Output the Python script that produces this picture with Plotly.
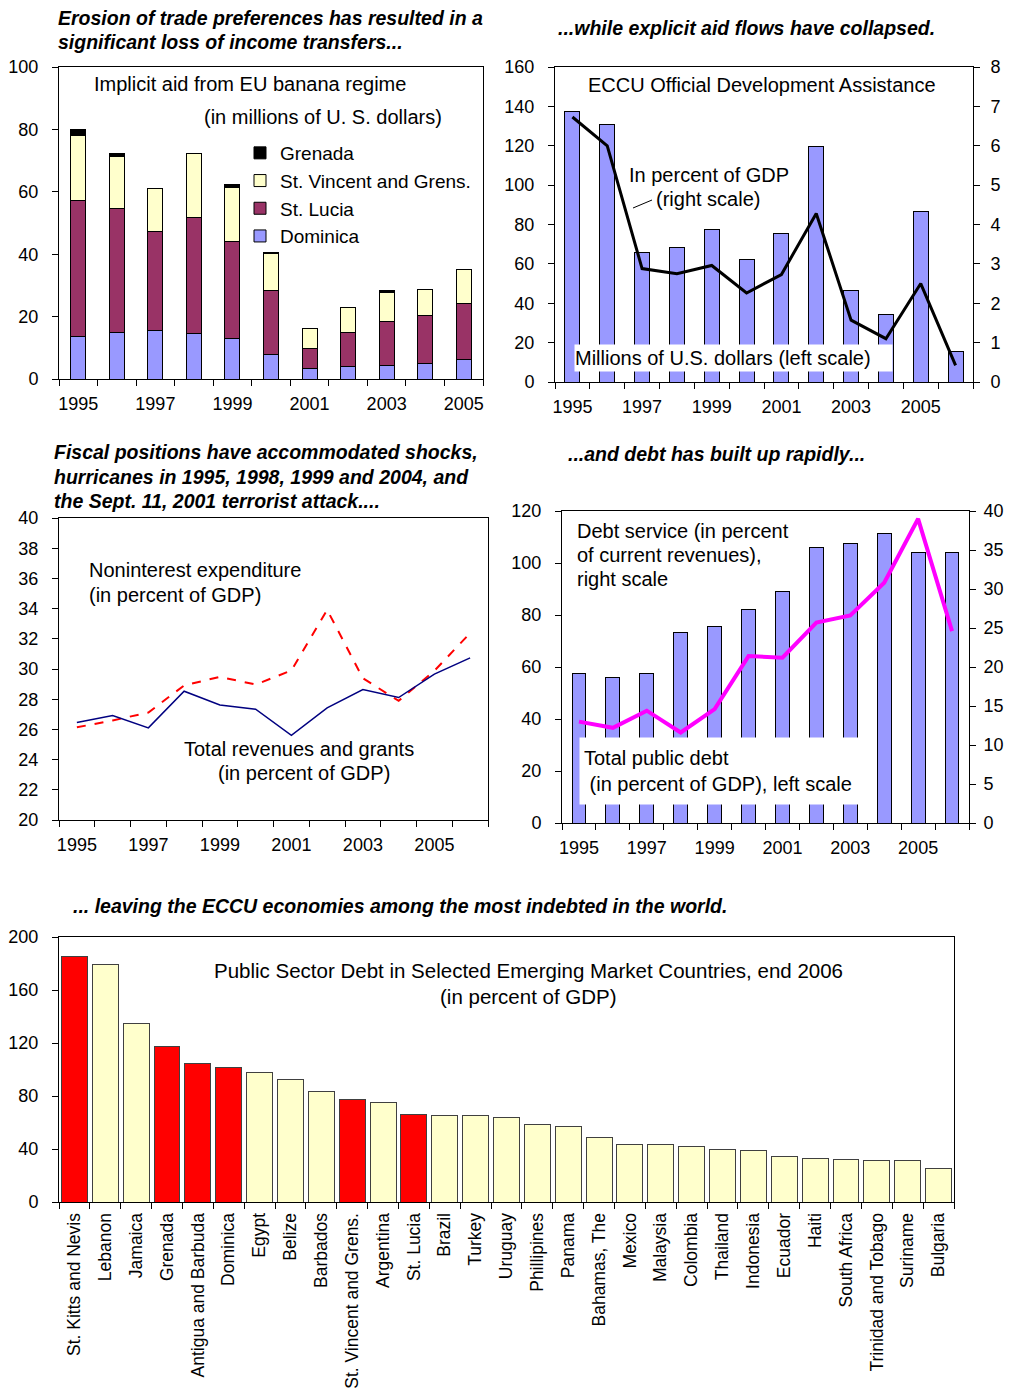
import plotly.graph_objects as go

# reference canvas (pixels) and the figure actually drawn inside the page body (8px body margin)
REF_W, REF_H = 1013, 1399
OFF_X, OFF_Y = 8, 8
W, H = REF_W - 2 * OFF_X, REF_H - 2 * OFF_Y

# ---------------- data ----------------
years11 = ["1995", "1996", "1997", "1998", "1999", "2000", "2001", "2002", "2003", "2004", "2005"]
years12 = years11 + ["2006"]
year_labels11 = ["1995", "", "1997", "", "1999", "", "2001", "", "2003", "", "2005"]
year_labels12 = year_labels11 + [""]

# Implicit aid from EU banana regime (millions of US$)
dominica = [13.6, 15.0, 15.5, 14.5, 13.1, 7.8, 3.4, 3.9, 4.4, 4.9, 6.3]
st_lucia = [43.5, 39.8, 31.9, 37.4, 30.9, 20.5, 6.3, 11.1, 14.0, 15.5, 18.0]
st_vincent = [20.8, 16.4, 13.8, 20.4, 17.4, 12.0, 6.5, 7.8, 9.4, 8.3, 10.7]
grenada = [2.2, 1.1, None, None, 0.8, 0.4, None, None, 0.6, None, None]

# ECCU Official Development Assistance
oda_musd = [137.5, 130.7, 66.0, 68.2, 77.5, 62.1, 75.2, 119.7, 46.7, 34.4, 86.7, 15.7]
oda_pct_gdp = [6.73, 6.0, 2.88, 2.75, 2.96, 2.26, 2.73, 4.28, 1.57, 1.10, 2.50, 0.42]

# Fiscal positions (percent of GDP)
revenues_grants = [26.45, 26.92, 26.1, 28.53, 27.62, 27.34, 25.61, 27.43, 28.64, 28.11, 29.66, 30.74]
nonint_expend = [26.14, 26.59, 27.12, 28.91, 29.48, 28.97, 29.9, 33.92, 29.39, 27.89, 29.88, 32.38]

# Debt
public_debt = [57.6, 55.8, 57.6, 73.3, 75.6, 82.0, 89.0, 105.8, 107.6, 111.2, 104.0, 104.0]
debt_service = [13.0, 12.2, 14.4, 11.6, 14.6, 21.4, 21.2, 25.7, 26.6, 30.8, 39.0, 24.6]

# Public sector debt, end 2006
countries = ["St. Kitts and Nevis", "Lebanon", "Jamaica", "Grenada", "Antigua and Barbuda",
             "Dominica", "Egypt", "Belize", "Barbados", "St. Vincent and Grens.", "Argentina",
             "St. Lucia", "Brazil", "Turkey", "Uruguay", "Phillipines", "Panama", "Bahamas, The",
             "Mexico", "Malaysia", "Colombia", "Thailand", "Indonesia", "Ecuador", "Haiti",
             "South Africa", "Trinidad and Tobago", "Suriname", "Bulgaria"]
country_debt = [185.0, 179.2, 134.5, 117.4, 104.9, 101.6, 98.1, 92.3, 83.3, 77.5, 75.3,
                66.2, 65.0, 65.0, 63.7, 58.2, 57.0, 48.9, 43.4, 43.4, 42.2, 39.9, 38.9,
                34.4, 33.1, 32.1, 31.1, 31.1, 25.1]
eccu_members = ["St. Kitts and Nevis", "Grenada", "Antigua and Barbuda", "Dominica",
                "St. Vincent and Grens.", "St. Lucia"]

# ---------------- styles ----------------
FONT = "Arial, 'Liberation Sans', sans-serif"
BLUE = "#9999FF"
PLUM = "#993366"
CREAM = "#FFFFCC"


def px(x):
    return (x - OFF_X) / W


def py(y):
    return 1 - (y - OFF_Y) / H


fig = go.Figure()

# Top-left: stacked bars
for name, vals, col in [("Dominica", dominica, BLUE), ("St. Lucia", st_lucia, PLUM),
                        ("St. Vincent and Grens.", st_vincent, CREAM), ("Grenada", grenada, "#000000")]:
    fig.add_trace(go.Bar(x=years11, y=vals, name=name, marker=dict(color=col, line=dict(color="black", width=1)),
                         width=0.39, xaxis="x", yaxis="y", showlegend=True))

# Top-right: ODA
fig.add_trace(go.Bar(x=years12, y=oda_musd, marker=dict(color=BLUE, line=dict(color="black", width=1)),
                     width=0.43, xaxis="x2", yaxis="y2", showlegend=False))
fig.add_trace(go.Scatter(x=years12, y=oda_pct_gdp, mode="lines", line=dict(color="black", width=3),
                         xaxis="x2", yaxis="y3", showlegend=False))

# Mid-left: fiscal
fig.add_trace(go.Scatter(x=years12, y=nonint_expend, mode="lines", line=dict(color="#FF0000", width=2, dash="dash"),
                         xaxis="x3", yaxis="y4", showlegend=False))
fig.add_trace(go.Scatter(x=years12, y=revenues_grants, mode="lines", line=dict(color="#000080", width=1.5),
                         xaxis="x3", yaxis="y4", showlegend=False))

# Mid-right: debt
fig.add_trace(go.Bar(x=years12, y=public_debt, marker=dict(color=BLUE, line=dict(color="black", width=1)),
                     width=0.41, xaxis="x4", yaxis="y5", showlegend=False))
fig.add_trace(go.Scatter(x=years12, y=debt_service, mode="lines", line=dict(color="#FF00FF", width=4),
                         xaxis="x4", yaxis="y6", showlegend=False))

# Bottom: countries
bar_colors = ["#FF0000" if c in eccu_members else CREAM for c in countries]
fig.add_trace(go.Bar(x=countries, y=country_debt, marker=dict(color=bar_colors, line=dict(color="#404040", width=1)),
                     width=0.84, xaxis="x5", yaxis="y7", showlegend=False))

tickfont = dict(family=FONT, size=18, color="black")


def xcat(domain, anchor, cats, labels=None, angle=0):
    d = dict(domain=domain, anchor=anchor, type="category", categoryorder="array", categoryarray=cats,
             range=[-0.5, len(cats) - 0.5], showline=True, linecolor="black", linewidth=1, mirror=True,
             ticks="outside", ticklen=6, tickcolor="black", tickson="boundaries", showgrid=False,
             zeroline=False, tickfont=tickfont, ticklabelstandoff=8, fixedrange=True, tickangle=angle)
    if labels is not None:
        d.update(tickmode="array", tickvals=cats, ticktext=labels)
    return d


def ynum(domain, anchor, rng, dtick, side="left", overlaying=None, mirror=True):
    d = dict(domain=domain, anchor=anchor, range=rng, dtick=dtick, tick0=rng[0], side=side, showline=True,
             linecolor="black", linewidth=1, mirror=mirror, ticks="outside", ticklen=6, tickcolor="black",
             showgrid=False, zeroline=False, tickfont=tickfont, ticklabelstandoff=10, fixedrange=True)
    if overlaying:
        d["overlaying"] = overlaying
    return d


layout = dict(
    width=W, height=H, margin=dict(l=0, r=0, t=0, b=0, autoexpand=False),
    paper_bgcolor="white", plot_bgcolor="white",
    font=dict(family=FONT, color="black"),
    barmode="stack",
    showlegend=True,
    legend=dict(x=px(240), y=py(134), xanchor="left", yanchor="top", traceorder="reversed",
                font=dict(family=FONT, size=19, color="black"), bgcolor="rgba(0,0,0,0)",
                tracegroupgap=0, itemwidth=30),
    xaxis=xcat([px(59), px(483)], "y", years11, year_labels11),
    yaxis=ynum([py(379), py(67)], "x", [0, 100], 20),
    xaxis2=xcat([px(555), px(973)], "y2", years12, year_labels12),
    yaxis2=ynum([py(382), py(67)], "x2", [0, 160], 20),
    yaxis3=ynum([py(382), py(67)], "x2", [0, 8], 1, side="right", overlaying="y2", mirror=False),
    xaxis3=xcat([px(59), px(488)], "y4", years12, year_labels12),
    yaxis4=ynum([py(820), py(518)], "x3", [20, 40], 2),
    xaxis4=xcat([px(562), px(969)], "y5", years12, year_labels12),
    yaxis5=ynum([py(823), py(511)], "x4", [0, 120], 20),
    yaxis6=ynum([py(823), py(511)], "x4", [0, 40], 5, side="right", overlaying="y5", mirror=False),
    xaxis5=xcat([px(59), px(954)], "y7", countries, angle=-90),
    yaxis7=ynum([py(1202), py(937)], "x5", [0, 200], 40),
)
layout["xaxis5"]["ticklabelstandoff"] = 3
layout["xaxis5"]["tickfont"] = dict(family=FONT, size=17.5, color="black")
layout["yaxis3"]["ticklabelstandoff"] = 7
layout["yaxis6"]["ticklabelstandoff"] = 4
fig.update_layout(**layout)

ann_font = dict(family=FONT, size=20, color="black")
title_font = dict(family=FONT, size=19.5, color="black")

annotations = []


def note(text, x, y, xanchor="left", font=ann_font, **kw):
    annotations.append(dict(text=text, x=px(x), y=py(y), xref="paper", yref="paper", xanchor=xanchor,
                            yanchor="middle", showarrow=False, font=font, **kw))


# Section titles
note("<b><i>Erosion of trade preferences has resulted in a</i></b>", 56, 18, font=title_font)
note("<b><i>significant loss of income transfers...</i></b>", 56, 42, font=title_font)
note("<b><i>...while explicit aid flows have collapsed.</i></b>", 556, 28, font=title_font)
note("<b><i>Fiscal positions have accommodated shocks,</i></b>", 52, 452, font=title_font)
note("<b><i>hurricanes in 1995, 1998, 1999 and 2004, and</i></b>", 52, 477, font=title_font)
note("<b><i>the Sept. 11, 2001 terrorist attack....</i></b>", 52, 501, font=title_font)
note("<b><i>...and debt has built up rapidly...</i></b>", 566, 454, font=title_font)
note("<b><i>... leaving the ECCU economies among the most indebted in the world.</i></b>", 71, 906,
     font=dict(family=FONT, size=19.5, color="black"))

# Top-left
note("Implicit aid from EU banana regime", 92, 84)
note("(in millions of U. S. dollars)", 202, 117)

# Top-right
note("ECCU Official Development Assistance", 586, 85)
note("In percent of GDP", 627, 175)
note("(right scale)", 654, 199)
annotations.append(dict(text="Millions of U.S. dollars (left scale)", x=px(574), y=py(358), xref="paper",
                        yref="paper", xanchor="left", yanchor="middle", showarrow=False, font=ann_font,
                        bgcolor="white", width=317, height=26, align="left", borderpad=0))

# Mid-left
note("Noninterest expenditure", 87, 570)
note("(in percent of GDP)", 87, 595)
note("Total revenues and grants", 182, 749)
note("(in percent of GDP)", 216, 773)

# Mid-right
note("Debt service (in percent", 575, 531)
note("of current revenues),", 575, 555)
note("right scale", 575, 579)
annotations.append(dict(text="Total public debt<br> (in percent of GDP), left scale", x=px(579), y=py(771),
                        xref="paper", yref="paper", xanchor="left", yanchor="middle", showarrow=False,
                        font=ann_font, bgcolor="white", width=271, height=58, align="left", borderpad=4))
annotations.append(dict(text="", x="2005", y=debt_service[years12.index("2005")], xref="x4", yref="y6",
                        showarrow=True, arrowhead=2, arrowsize=1, arrowwidth=1.2, arrowcolor="black",
                        ax=-127, ay=14, axref="pixel", ayref="pixel", standoff=6))

# Bottom
note("Public Sector Debt in Selected Emerging Market Countries, end 2006", 528, 971, xanchor="center",
     font=dict(family=FONT, size=20.5, color="black"))
note("(in percent of GDP)", 528, 996, xanchor="center", font=dict(family=FONT, size=20.5, color="black"))

fig.update_layout(annotations=annotations)

# leader line for "(right scale)"
fig.add_shape(type="line", xref="paper", yref="paper", x0=px(633), y0=py(208), x1=px(652), y1=py(200),
              line=dict(color="black", width=1))

fig.write_html("out.html")
